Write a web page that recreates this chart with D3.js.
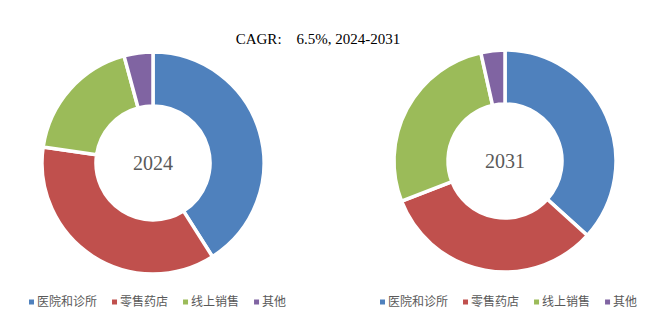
<!DOCTYPE html>
<html><head><meta charset="utf-8">
<script src="https://cdn.jsdelivr.net/npm/d3@7"></script>
<style>html,body{margin:0;padding:0;background:#fff;}</style>
</head><body>
<svg id="c" width="658" height="322"></svg>
<script>
const categories = ["医院和诊所", "零售药店", "线上销售", "其他"];
const years = ["2024", "2031"];
const values2024 = [41.0, 36.3, 18.5, 4.2];
const values2031 = [36.7, 32.4, 27.4, 3.5];
const colors = ["#4F81BD", "#C0504D", "#9BBB59", "#8064A2"];
const title = "CAGR:    6.5%, 2024-2031";

const svg = d3.select("#c");
const cjk = "'Noto Sans CJK SC', sans-serif";
const serif = "'Liberation Serif', 'DejaVu Serif', serif";

svg.append("text").attr("x", 318).attr("y", 44).attr("text-anchor", "middle")
  .attr("font-family", serif).attr("font-size", 15).attr("fill", "#000")
  .attr("xml:space", "preserve").style("white-space", "pre").text(title);

const color = d3.scaleOrdinal().domain(categories).range(colors);
const pie = d3.pie().sort(null).value(d => d.v);
const arc = d3.arc().innerRadius(57).outerRadius(111);

const charts = [
  {year: years[0], vals: values2024, cx: 153, cy: 163, lx: 29},
  {year: years[1], vals: values2031, cx: 505, cy: 161, lx: 380}
];

charts.forEach(ch => {
  const g = svg.append("g").attr("transform", `translate(${ch.cx},${ch.cy})`);
  const data = categories.map((c, i) => ({c, v: ch.vals[i]}));
  g.selectAll("path").data(pie(data)).join("path")
    .attr("d", arc).attr("fill", d => color(d.data.c))
    .attr("stroke", "#fff").attr("stroke-width", 3.5).attr("stroke-linejoin", "miter");
  g.append("text").attr("text-anchor", "middle").attr("dy", "0.35em")
    .attr("font-family", serif).attr("font-size", 20).attr("fill", "#595959")
    .text(ch.year);

  // legend
  const lg = svg.append("g").attr("transform", `translate(${ch.lx},302)`);
  let x = 0;
  categories.forEach((c, i) => {
    lg.append("rect").attr("x", x).attr("y", -2.5).attr("width", 5).attr("height", 5).attr("fill", colors[i]);
    const t = lg.append("text").attr("x", x + 8).attr("y", 0).attr("dy", "0.35em")
      .attr("font-family", cjk).attr("font-size", 12).attr("fill", "#595959").text(c);
    const w = t.node().getComputedTextLength();
    x += 8 + w + 15;
  });
});
</script>
</body></html>
